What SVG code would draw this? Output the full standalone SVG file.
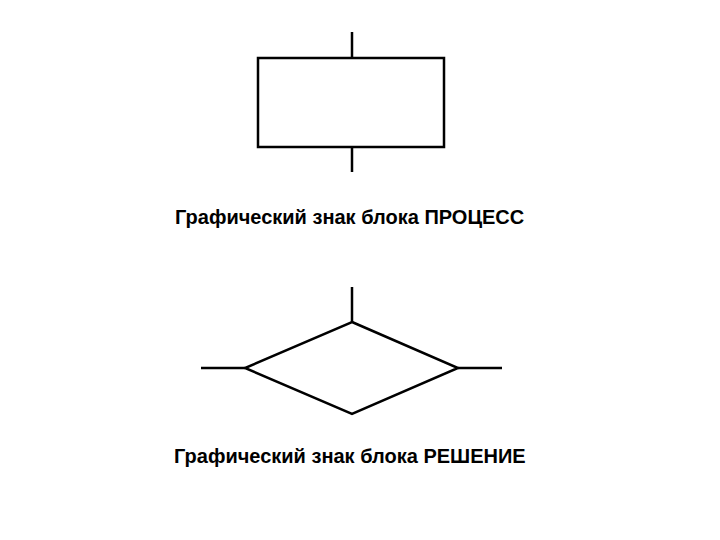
<svg xmlns="http://www.w3.org/2000/svg" width="720" height="540" viewBox="0 0 720 540">
<style>
.s{fill:none;stroke:#000;stroke-width:2.5}
.t{font-family:"Liberation Sans",Arial,sans-serif;font-weight:bold;font-size:20px;fill:#000}
</style>
<rect width="720" height="540" fill="#fff"/>
<g id="process">
<rect class="s" x="258" y="58" width="186" height="89"/>
</g>
<g id="decision">
<polygon class="s" points="352,322 458,368 352,414 245,368"/>
</g>
<g id="connectors">
<line class="s" x1="352" y1="32" x2="352" y2="58"/>
<line class="s" x1="352" y1="147" x2="352" y2="172"/>
<line class="s" x1="352" y1="287" x2="352" y2="322"/>
<line class="s" x1="201" y1="368" x2="245" y2="368"/>
<line class="s" x1="458" y1="368" x2="502" y2="368"/>
</g>
<g id="labels">
<text class="t" x="175" y="224">Графический знак блока ПРОЦЕСС</text>
<text class="t" x="174" y="463">Графический знак блока РЕШЕНИЕ</text>
</g>
</svg>
